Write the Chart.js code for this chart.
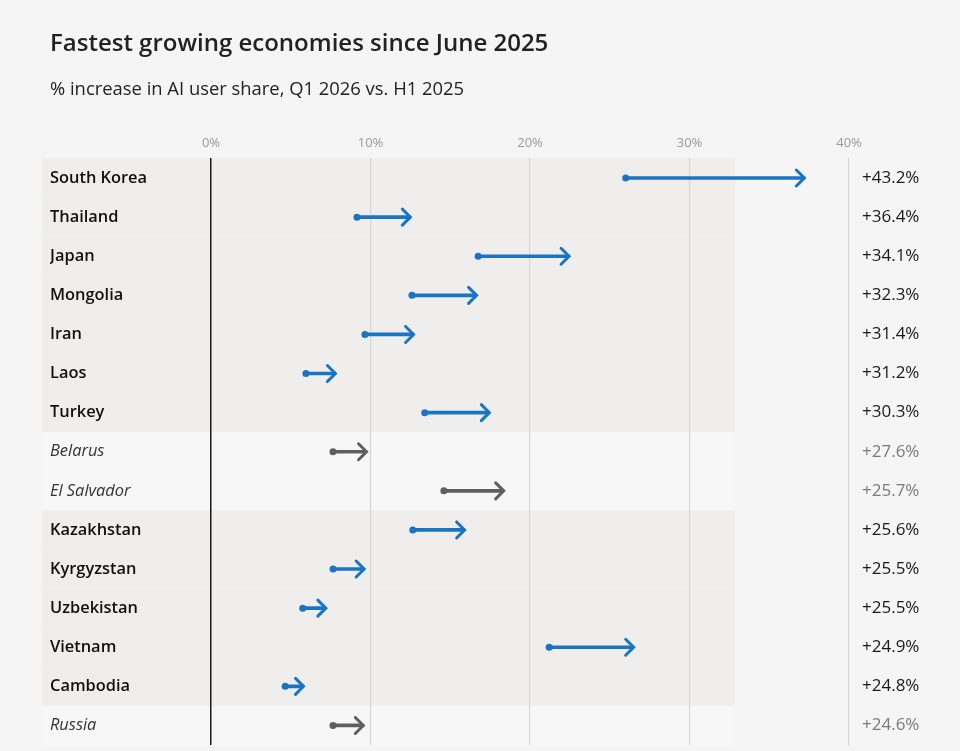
<!DOCTYPE html>
<html>
<head>
<meta charset="utf-8">
<script src="https://cdn.jsdelivr.net/npm/chart.js@4.4.1/dist/chart.umd.min.js"></script>
<style>
  html, body { margin: 0; padding: 0; background: #f5f5f5; }
  #wrap { width: 960px; height: 751px; }
</style>
</head>
<body>
<div id="wrap"><canvas id="c" width="960" height="751"></canvas></div>
<script>
// ---- data ----
const categories = ['South Korea','Thailand','Japan','Mongolia','Iran','Laos','Turkey','Belarus','El Salvador','Kazakhstan','Kyrgyzstan','Uzbekistan','Vietnam','Cambodia','Russia'];
const shareH1_2025 = [26.0, 9.15, 16.75, 12.6, 9.65, 5.95, 13.4, 7.65, 14.6, 12.65, 7.65, 5.75, 21.2, 4.65, 7.65];
const shareQ1_2026 = [37.2, 12.5, 22.45, 16.65, 12.7, 7.8, 17.45, 9.75, 18.35, 15.9, 9.6, 7.2, 26.5, 5.8, 9.55];
const changeLabels = ['+43.2%','+36.4%','+34.1%','+32.3%','+31.4%','+31.2%','+30.3%','+27.6%','+25.7%','+25.6%','+25.5%','+25.5%','+24.9%','+24.8%','+24.6%'];
const highlighted = [true,true,true,true,true,true,true,false,false,true,true,true,true,true,false];
const xTicks = [0, 10, 20, 30, 40];

const BLUE = '#1874c4';
const GREY = '#5f5f5f';
const FONT = "'Open Sans', 'Noto Sans', sans-serif";

const rowBands = {
  id: 'rowBands',
  beforeDraw(chart) {
    const ctx = chart.ctx;
    ctx.save();
    ctx.fillStyle = '#f5f5f5';
    ctx.fillRect(0, 0, chart.width, chart.height);
    const y = chart.scales.y;
    const h = (y.bottom - y.top) / categories.length;
    categories.forEach((c, i) => {
      const cy = y.getPixelForValue(i);
      ctx.fillStyle = highlighted[i] ? '#efeeec' : '#f7f7f7';
      ctx.fillRect(42, cy - h / 2, 693, h);
    });
    ctx.restore();
  }
};

const arrowHeads = {
  id: 'arrowHeads',
  afterDatasetsDraw(chart) {
    const ctx = chart.ctx;
    const meta = chart.getDatasetMeta(0);
    ctx.save();
    meta.data.forEach((bar, i) => {
      const col = highlighted[i] ? BLUE : GREY;
      const x0 = bar.base, x1 = bar.x, yy = bar.y;
      ctx.fillStyle = col;
      ctx.beginPath();
      ctx.arc(x0, yy, 3.5, 0, Math.PI * 2);
      ctx.fill();
      ctx.strokeStyle = col;
      ctx.lineWidth = 3;
      ctx.lineCap = 'round';
      ctx.lineJoin = 'miter';
      ctx.beginPath();
      ctx.moveTo(x1 - 8, yy - 8);
      ctx.lineTo(x1, yy);
      ctx.lineTo(x1 - 8, yy + 8);
      ctx.stroke();
    });
    ctx.restore();
  }
};

function fitY(width) {
  return function (scale) {
    scale.width = width;
    scale.paddingTop = 0;
    scale.paddingBottom = 0;
  };
}

new Chart(document.getElementById('c'), {
  type: 'bar',
  data: {
    labels: categories,
    datasets: [{
      label: 'AI user share',
      data: categories.map((c, i) => [shareH1_2025[i], shareQ1_2026[i]]),
      backgroundColor: categories.map((c, i) => highlighted[i] ? BLUE : GREY),
      borderWidth: 0,
      barThickness: 3,
      yAxisID: 'y'
    }]
  },
  options: {
    indexAxis: 'y',
    responsive: false,
    animation: false,
    devicePixelRatio: 1,
    layout: { padding: { left: 50, right: 0, top: 30, bottom: 6 } },
    plugins: {
      legend: { display: false },
      tooltip: { enabled: false },
      title: {
        display: true,
        text: 'Fastest growing economies since June 2025',
        align: 'start',
        color: '#222',
        font: { family: FONT, size: 24, weight: '600' },
        padding: { top: 0, bottom: 17 }
      },
      subtitle: {
        display: true,
        text: '% increase in AI user share, Q1 2026 vs. H1 2025',
        align: 'start',
        color: '#222',
        font: { family: FONT, size: 18.4, weight: '400' },
        padding: { top: 3, bottom: 28 }
      }
    },
    scales: {
      x: {
        position: 'top',
        min: 0,
        max: 40,
        afterBuildTicks(scale) { scale.ticks = xTicks.map(v => ({ value: v })); },
        ticks: {
          callback: v => v + '%',
          color: '#999',
          font: { family: FONT, size: 13 },
          padding: 7
        },
        grid: {
          color: ctx => (ctx.tick && ctx.tick.value === 0) ? '#1a1a1a' : '#d6d6d6',
          lineWidth: ctx => (ctx.tick && ctx.tick.value === 0) ? 1.5 : 1.2,
          drawTicks: false
        },
        border: { display: false }
      },
      y: {
        position: 'left',
        offset: true,
        afterFit: fitY(161),
        ticks: {
          crossAlign: 'far',
          color: ctx => highlighted[ctx.index] ? '#111' : '#333',
          font: ctx => highlighted[ctx.index]
            ? { family: FONT, size: 16.4, weight: '600' }
            : { family: FONT, size: 16.4, style: 'italic', weight: '400' }
        },
        grid: { display: false },
        border: { display: false }
      },
      y2: {
        type: 'category',
        position: 'right',
        labels: changeLabels,
        offset: true,
        afterFit: fitY(111),
        ticks: {
          crossAlign: 'near',
          padding: 5,
          color: ctx => highlighted[ctx.index] ? '#1a1a1a' : '#7a7a7a',
          font: { family: FONT, size: 17, weight: '400' }
        },
        grid: { display: false },
        border: { display: false }
      }
    }
  },
  plugins: [rowBands, arrowHeads]
});
</script>
</body>
</html>
